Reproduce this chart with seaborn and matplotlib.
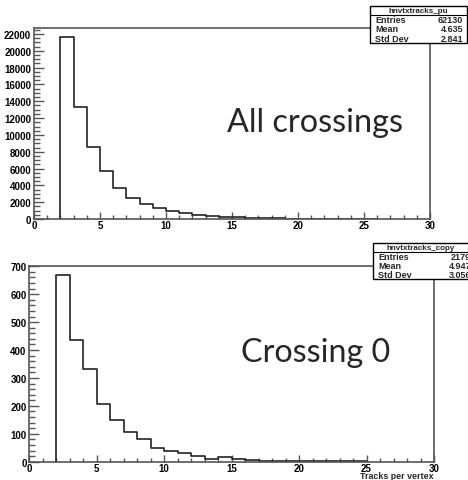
"""
Tracks per vertex: all crossings vs crossing 0 (ROOT-style histograms).
"""

import numpy as np
import pandas as pd
import matplotlib
matplotlib.use("Agg")
import matplotlib.pyplot as plt
from matplotlib.ticker import MultipleLocator
import seaborn as sns

# bin left edges start at 2, width 1
bin_start = 2
counts_all = [21650, 13330, 8520, 5670, 3730, 2540, 1830, 1310, 950, 680,
              480, 360, 250, 180, 130, 90, 65, 45, 30, 22, 15, 10, 7, 5]
counts_c0 = [668, 437, 331, 208, 150, 106, 82, 50, 37, 30,
             20, 11, 16, 10, 5, 3, 4, 3, 2, 1, 1, 2, 1]

stats_all = ("hnvtxtracks_pu", ["Entries", "Mean", "Std Dev"], ["62130", "4.635", "2.841"])
stats_c0 = ("hnvtxtracks_copy", ["Entries", "Mean", "Std Dev"], ["2179", "4.947", "3.056"])

labels = ["All crossings", "Crossing 0"]
x_label = "Tracks per vertex"

W, H = 468, 481
FRAME = "#555555"
LINE = "#222222"
TICKFONT = dict(family="Liberation Sans", weight="bold", size=7)


def make_df(counts):
    left = bin_start + np.arange(len(counts))
    return pd.DataFrame({"x": left + 0.5, "n": counts})


def style_axes(ax, ymax, ymajor, yminor):
    ax.set_xlim(0, 30)
    ax.set_ylim(0, ymax)
    ax.xaxis.set_major_locator(MultipleLocator(5))
    ax.xaxis.set_minor_locator(MultipleLocator(1))
    ax.yaxis.set_major_locator(MultipleLocator(ymajor))
    ax.yaxis.set_minor_locator(MultipleLocator(yminor))
    ax.tick_params(axis="both", which="both", direction="in", colors=FRAME,
                   labelcolor="black", top=False, right=False,
                   bottom=True, left=True)
    ax.tick_params(axis="y", which="major", length=7, width=1, pad=2)
    ax.tick_params(axis="y", which="minor", length=4, width=1)
    ax.tick_params(axis="x", which="major", length=5, width=1, pad=1)
    ax.tick_params(axis="x", which="minor", length=3, width=1)
    for lab in ax.get_xticklabels() + ax.get_yticklabels():
        lab.set_fontfamily(TICKFONT["family"])
        lab.set_fontweight(TICKFONT["weight"])
        lab.set_fontsize(TICKFONT["size"])
    for sp in ax.spines.values():
        sp.set_color(FRAME)
        sp.set_linewidth(1.2)
    ax.set_xlabel("")
    ax.set_ylabel("")
    ax.grid(False)


def stats_box(fig, x0, y0, x1, y1, title, names, values, vright):
    # coordinates in pixels from top-left
    fx = lambda p: p / W
    fy = lambda p: 1 - p / H
    rect = plt.Rectangle((fx(x0), fy(y1)), fx(x1) - fx(x0), fy(y0) - fy(y1),
                         transform=fig.transFigure, facecolor="white",
                         edgecolor="black", linewidth=1, zorder=10)
    fig.add_artist(rect)
    hline = (y1 - y0) * 0.24 + y0
    fig.add_artist(plt.Line2D([fx(x0), fx(x1)], [fy(hline), fy(hline)],
                              transform=fig.transFigure, color="black", lw=0.8, zorder=11))
    kw = dict(family="Liberation Sans", weight="bold", size=6.5, zorder=12)
    fig.text(fx((x0 + min(x1, W)) / 2), fy((y0 + hline) / 2), title,
             ha="center", va="center", family="Liberation Sans",
             weight="bold", size=5.8, zorder=12)
    row_h = (y1 - hline) / 3
    for i, (n, v) in enumerate(zip(names, values)):
        yc = hline + row_h * (i + 0.5)
        fig.text(fx(x0 + 5), fy(yc), n, ha="left", va="center", **kw)
        fig.text(fx(vright), fy(yc), v, ha="right", va="center", **kw)


sns.set_style("white")
fig = plt.figure(figsize=(W / 100, H / 100), dpi=100)

ax1 = fig.add_axes([34 / W, 1 - 220 / H, (430 - 34) / W, (220 - 29) / H])
ax2 = fig.add_axes([29.3 / W, 1 - 462.7 / H, (434 - 29.3) / W, (462.7 - 266.7) / H])

sns.histplot(data=make_df(counts_all), x="x", weights="n", binwidth=1,
             binrange=(bin_start, bin_start + len(counts_all)),
             element="step", fill=False, color=LINE, linewidth=1.2, ax=ax1)
sns.histplot(data=make_df(counts_c0), x="x", weights="n", binwidth=1,
             binrange=(bin_start, bin_start + len(counts_c0)),
             element="step", fill=False, color=LINE, linewidth=1.2, ax=ax2)

# vertical edge at the first bin down to zero
ax1.vlines(bin_start, 0, counts_all[0], color=LINE, linewidth=1.2)
ax2.vlines(bin_start, 0, counts_c0[0], color=LINE, linewidth=1.2)

style_axes(ax1, 22714, 2000, 500)
style_axes(ax2, 702, 100, 20)

fig.text(315 / W, 1 - 132 / H, labels[0], family="Lato", size=23.3,
         ha="center", va="baseline")
fig.text(316 / W, 1 - 362 / H, labels[1], family="Lato", size=23.2,
         ha="center", va="baseline")

fig.text(433 / W, 1 - 479.2 / H, x_label, family="Liberation Sans",
         weight="bold", size=6.4, ha="right", va="baseline")

stats_box(fig, 370, 7, 467, 44, *stats_all, vright=463)
stats_box(fig, 373, 244, 478, 280, *stats_c0, vright=471)

fig.savefig("out.png", dpi=100)
